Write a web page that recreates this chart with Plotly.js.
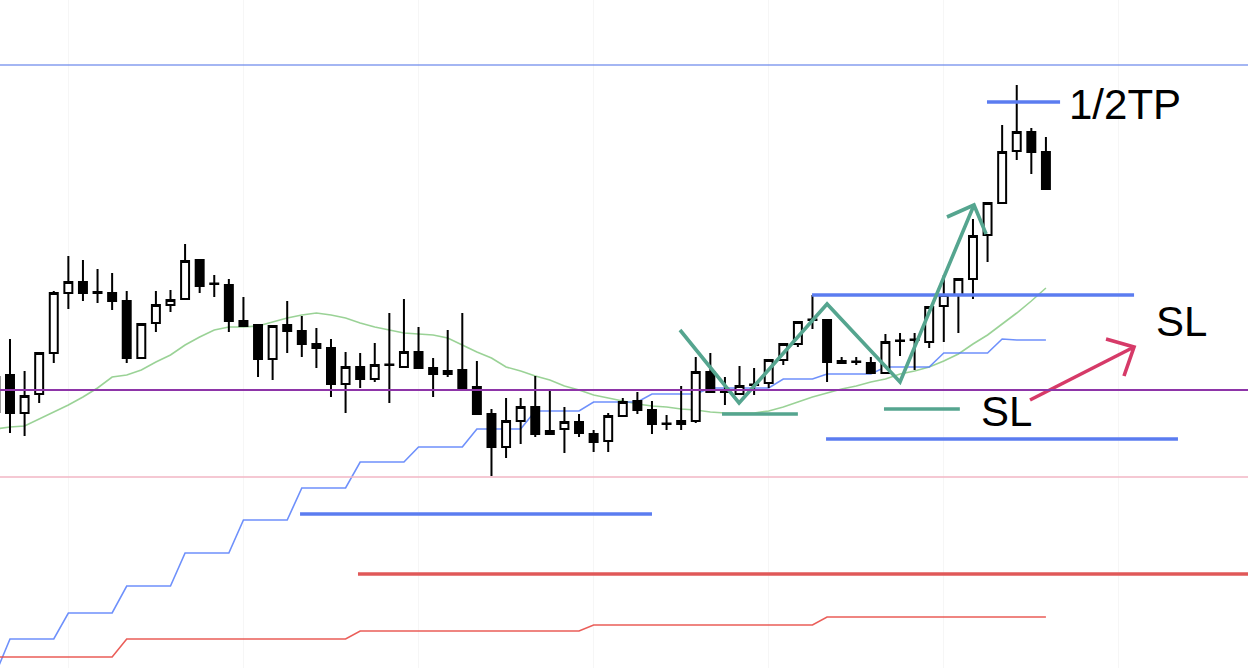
<!DOCTYPE html>
<html><head><meta charset="utf-8">
<script src="https://cdn.plot.ly/plotly-3.0.1.min.js"></script>
<style>html,body{margin:0;padding:0;background:#fff}#chart{width:1248px;height:668px}</style>
</head><body><div id="chart"></div>
<script>
// candle index -1 .. 71 (price units arbitrary)
const firstIndex = -1;
const openP  = [323,325,287,306,347,407,418,408,407,399,342,377,395,401,440,416.5,415,379,375,341,375,369,356,352,316,333,321,335.5,333,348,332,326,330,313,286,253,279,293,266,271,278,266,259,284,299,290,276.5,279,279,328,309,306,315.5,317,340,356,380.5,380,339,338.5,337,327,359.5,360.5,358,394,405,421,465,497,549,568,548];
const highP  = [330,361,329,347,409,444,440,431,427,409,376,409,410,456,440,425,421,403,375,374,399,384,372,361,348,347,357,387,401,373,342,370,387,339,291,302,302,324,309,293,286,270,287,302,308,299,285,314,343,347,323,334,332,340,356,378,405,380,343,343,343,366,367,367,394,425,421,481,497,575,615,572,563];
const lowP   = [280,267,264,297,337,391,399,397,390,337,342,368,388,401,407,403,368,374,323,320,347,343,332,303,287,312,318,297,333,331,303,323,312,286,224,242,256,263,266,247,263,248,248,284,286,266,270,270,277,307,295,306,305,312,335,353,371,318,337,335,327,327,344,330,352,358,367,401,438,497,540,526,511];
const closeP = [288,287,304,347,407,418,407,407,399,342,376,395,400,439,414,416,379,374,341,374,369,356,352,316,333,321,335,335,348,332,326,329,312,286,253,279,293,266,269,278,267,258,284,298,290,276,276,276,328,308,308,314,315,340,356,378,380,338,337,338,327,358,359,360,393,405,421,464,497,548,568,548,511];
// moving average (green)
const maLine = [271,273,274,281,288,295,303,312,323,325,330,338,345,355,363,370,373,373,374,378,382,385,387,385,382,377,373,370,367,366,365,362,355,348,342,333,329,324,320,314,310,305,302,299,296,294,293,291,290,288,287,287,287,289,293,298,303,307,311,314,318,321,326,329,333,339,346,356,365,376,387,399,412];
// stepped support line (light blue)
const blueStep = [26,61,61,61,61,87,87,87,87,114,114,114,114,147,147,147,147,180,180,180,180,212,212,212,212,238,238,238,238,253,253,253,253,271,271,271,271,289,289,289,289,298,298,298,298,306,306,306,306,312,312,312,312,312,321,321,321,326,326,326,326,333,333,333,333,347,347,347,347,361,360,360,360];
// stepped support line (red)
const redStep = [43,43,43,43,43,43,43,43,43,61,61,61,61,61,61,61,61,61,61,61,61,61,61,61,61,69,69,69,69,69,69,69,69,69,69,69,69,69,69,69,69,75,75,75,75,75,75,75,75,75,75,75,75,75,75,75,75,83,83,83,83,83,83,83,83,83,83,83,83,83,83,83,83];
// full-width levels
const topLevel = 635, purpleLevel = 310, pinkLevel = 223;
// drawn level segments [xStart, xEnd, level]
const blueSegments = [[19.88,44.0,186],[54.97,77.04,405],[55.93,80.05,261],[66.96,71.97,598]];
const redSegment = [23.85,90,126];
const tealSegments = [[48.8,54.0,286],[59.9,65.1,291]];
// zigzag (teal) and its arrow head
const zigX = [45.92,49.97,56.0,61.0,66.07], zigY = [370,297,396,318,495];
const zigHeadX = [64.22,66.07,66.9], zigHeadY = [483,495,466];
// crimson arrow
const redArrowX = [69.91,77.04], redArrowY = [300,353];
const redHeadX = [75.12,77.04,76.35], redHeadY = [361,353,324];
// labels [text, x, y]
const labels = [["1/2TP",76.42,596],["SL",80.26,379],["SL",68.27,289]];

const idx = openP.map((_, i) => i + firstIndex);
const xr = [-0.685, 84.85], yr = [32, 700];

const traces = [];
traces.push({type:'scatter',mode:'lines',x:idx,y:maLine,xaxis:'x',yaxis:'y',line:{color:'rgba(120,195,115,0.75)',width:1.6},hoverinfo:'skip'});
traces.push({type:'scatter',mode:'lines',x:idx,y:blueStep,xaxis:'x',yaxis:'y',line:{color:'rgba(85,125,250,0.85)',width:1.6},hoverinfo:'skip'});
traces.push({type:'scatter',mode:'lines',x:idx,y:redStep,xaxis:'x',yaxis:'y',line:{color:'rgba(232,75,70,0.9)',width:1.6},hoverinfo:'skip'});
traces.push({type:'candlestick',x:idx,open:openP,high:highP,low:lowP,close:closeP,xaxis:'x2',yaxis:'y2',
  increasing:{line:{color:'#000',width:2},fillcolor:'#fff'},
  decreasing:{line:{color:'#000',width:2},fillcolor:'#000'},hoverinfo:'skip'});
blueSegments.forEach(s=>traces.push({type:'scatter',mode:'lines',x:[s[0],s[1]],y:[s[2],s[2]],xaxis:'x2',yaxis:'y2',line:{color:'#5b7cf0',width:3.4},hoverinfo:'skip'}));
traces.push({type:'scatter',mode:'lines',x:[redSegment[0],redSegment[1]],y:[redSegment[2],redSegment[2]],xaxis:'x2',yaxis:'y2',line:{color:'#e05858',width:3.4},hoverinfo:'skip'});
tealSegments.forEach(s=>traces.push({type:'scatter',mode:'lines',x:[s[0],s[1]],y:[s[2],s[2]],xaxis:'x2',yaxis:'y2',line:{color:'#55a58f',width:3.6},hoverinfo:'skip'}));
traces.push({type:'scatter',mode:'lines',x:zigX,y:zigY,xaxis:'x2',yaxis:'y2',line:{color:'#55a58f',width:3.6},hoverinfo:'skip'});
traces.push({type:'scatter',mode:'lines',x:zigHeadX,y:zigHeadY,xaxis:'x2',yaxis:'y2',line:{color:'#55a58f',width:3.6},hoverinfo:'skip'});
traces.push({type:'scatter',mode:'lines',x:redArrowX,y:redArrowY,xaxis:'x2',yaxis:'y2',line:{color:'#d63a68',width:3.6},hoverinfo:'skip'});
traces.push({type:'scatter',mode:'lines',x:redHeadX,y:redHeadY,xaxis:'x2',yaxis:'y2',line:{color:'#d63a68',width:3.6},hoverinfo:'skip'});

const hline = (y,color,w)=>({type:'line',xref:'paper',x0:0,x1:1,yref:'y',y0:y,y1:y,line:{color:color,width:w},layer:'above'});

const layout = {
  width:1248,height:668,margin:{l:0,r:0,t:0,b:0,pad:0},showlegend:false,
  paper_bgcolor:'#fff',plot_bgcolor:'#fff',boxgap:0.22,
  xaxis:{range:xr,showticklabels:false,showgrid:true,gridcolor:'#f6f6f6',gridwidth:1,tick0:4,dtick:12,zeroline:false,showline:false,ticks:'',rangeslider:{visible:false},fixedrange:true},
  yaxis:{range:yr,showticklabels:false,showgrid:false,zeroline:false,showline:false,ticks:'',fixedrange:true},
  xaxis2:{range:xr,overlaying:'x',visible:false,showgrid:false,zeroline:false,rangeslider:{visible:false},fixedrange:true},
  yaxis2:{range:yr,overlaying:'y',visible:false,showgrid:false,zeroline:false,fixedrange:true},
  shapes:[hline(topLevel,'#4a6ee8',1.2),hline(purpleLevel,'#8e35a8',2),hline(pinkLevel,'#f2b6c4',1.5)],
  annotations:labels.map(l=>({text:l[0],x:l[1],y:l[2],xref:'x',yref:'y',showarrow:false,xanchor:'center',yanchor:'middle',
    font:{family:'Liberation Sans, Arial, sans-serif',size:42,color:'#000'}}))
};
Plotly.newPlot('chart',traces,layout,{staticPlot:true,displayModeBar:false});
</script></body></html>
